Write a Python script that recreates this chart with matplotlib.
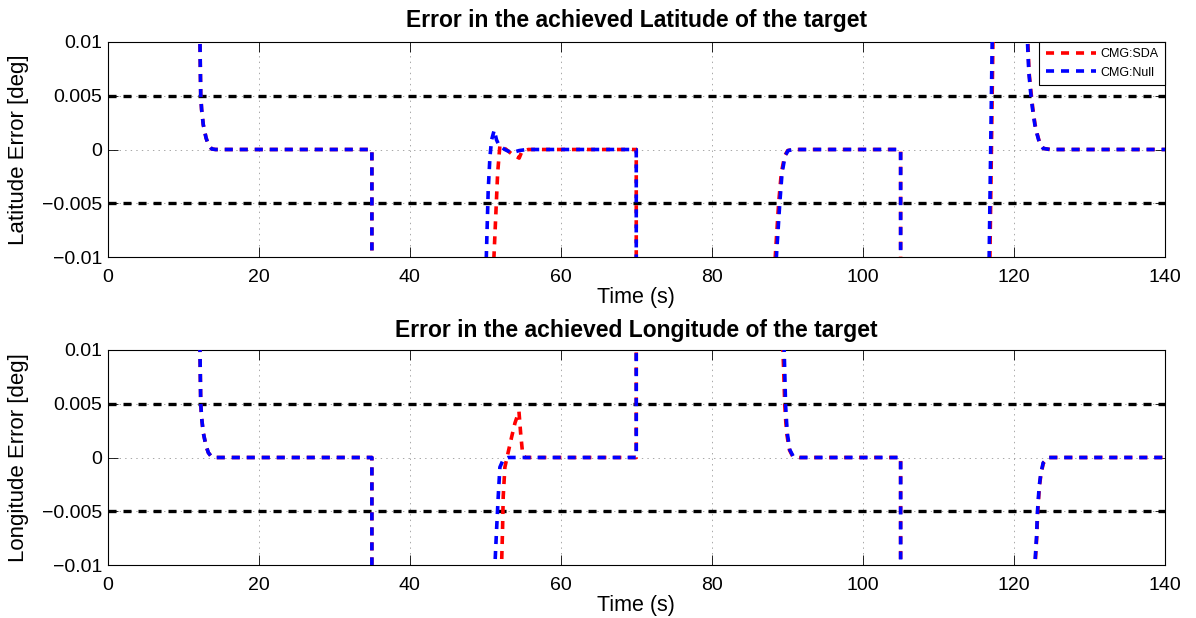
import matplotlib
matplotlib.use('Agg')
import matplotlib.pyplot as plt
import numpy as np

plt.rcParams['font.family'] = ['Liberation Sans', 'DejaVu Sans']
plt.rcParams['lines.scale_dashes'] = False

# (time [s], error [deg]) samples; +-0.05 stands for excursions far off scale
lat_sda = np.array([
    (12.0, 0.05), (12.24, 0.0101), (12.34, 0.0051), (12.46, 0.0037), (12.68, 0.0023),
    (13.04, 0.0011), (13.35, 0.00045), (13.79, 0.00005), (14.3, 0.0), (35.0, 0.0),
    (35.0, -0.05), (48.7, -0.05), (51.16, -0.01), (51.65, -0.0022), (51.95, 0.0004),
    (52.6, 0.0001), (53.5, -0.0004), (54.5, -0.0008), (54.85, -0.0002), (55.7, 0.0),
    (70.0, 0.0), (70.0, -0.05), (87.4, -0.05), (88.4, -0.01), (88.85, -0.005),
    (89.2, -0.0022), (89.65, -0.0006), (90.05, -0.0001), (90.8, 0.0), (105.0, 0.0),
    (105.0, -0.05), (115.95, -0.05), (116.82, -0.01), (117.22, 0.01), (118.0, 0.05),
    (121.3, 0.05), (121.85, 0.0099), (122.0, 0.0072), (122.25, 0.0054), (122.5, 0.0038),
    (122.8, 0.0023), (123.1, 0.0014), (123.45, 0.0005), (123.9, 0.0001), (124.8, 0.0),
    (140.0, 0.0),
])
lat_null = np.array([
    (12.0, 0.05), (12.24, 0.0101), (12.34, 0.0051), (12.46, 0.0037), (12.68, 0.0023),
    (13.04, 0.0011), (13.35, 0.00045), (13.79, 0.00005), (14.3, 0.0), (35.0, 0.0),
    (35.0, -0.05), (48.9, -0.05), (50.15, -0.01), (50.4, -0.0038), (50.63, -0.0007),
    (50.85, 0.0009), (51.2, 0.0018), (51.5, 0.0009), (51.82, 0.0004), (52.6, 0.0),
    (53.5, -0.0003), (54.5, -0.0001), (55.5, 0.0), (70.0, 0.0), (70.0, -0.05),
    (87.6, -0.05), (88.55, -0.01), (89.0, -0.005), (89.3, -0.0022), (89.7, -0.0006),
    (90.1, -0.0001), (90.8, 0.0), (105.0, 0.0), (105.0, -0.05), (115.85, -0.05),
    (116.72, -0.01), (117.12, 0.01), (117.9, 0.05), (121.3, 0.05), (121.8, 0.0099),
    (121.97, 0.0072), (122.2, 0.0054), (122.46, 0.0038), (122.77, 0.0023), (123.07, 0.0014),
    (123.43, 0.0005), (123.87, 0.0001), (124.75, 0.0), (140.0, 0.0),
])
lon_sda = np.array([
    (12.0, 0.05), (12.24, 0.0101), (12.34, 0.0051), (12.46, 0.0037), (12.68, 0.0023),
    (13.04, 0.0011), (13.35, 0.00045), (13.79, 0.00005), (14.3, 0.0), (35.0, 0.0),
    (35.0, -0.05), (50.6, -0.05), (52.17, -0.01), (52.3, -0.0067), (52.39, -0.0036),
    (52.61, -0.0009), (53.05, 0.0005), (53.5, 0.0019), (53.94, 0.0032), (54.47, 0.0043),
    (54.69, 0.0023), (54.95, 0.0004), (55.26, 0.0), (70.0, 0.0), (70.0, 0.05),
    (88.3, 0.05), (89.42, 0.01), (89.55, 0.0074), (89.66, 0.0049), (89.8, 0.0033),
    (89.95, 0.0021), (90.28, 0.0007), (90.72, 0.0001), (91.6, 0.0), (105.0, 0.0),
    (105.0, -0.05), (121.4, -0.05), (122.8, -0.01), (123.02, -0.0074), (123.15, -0.005),
    (123.37, -0.0027), (123.59, -0.0015), (123.9, -0.0005), (124.55, 0.0), (140.0, 0.0),
])
lon_null = np.array([
    (12.0, 0.05), (12.24, 0.0101), (12.34, 0.0051), (12.46, 0.0037), (12.68, 0.0023),
    (13.04, 0.0011), (13.35, 0.00045), (13.79, 0.00005), (14.3, 0.0), (35.0, 0.0),
    (35.0, -0.05), (49.8, -0.05), (51.29, -0.01), (51.51, -0.0067), (51.73, -0.0036),
    (51.95, -0.0009), (52.39, -0.0002), (53.05, 0.0), (70.0, 0.0), (70.0, 0.05),
    (88.5, 0.05), (89.58, 0.01), (89.68, 0.0074), (89.77, 0.0049), (89.9, 0.0033),
    (90.03, 0.0021), (90.34, 0.0007), (90.78, 0.0001), (91.7, 0.0), (105.0, 0.0),
    (105.0, -0.05), (121.4, -0.05), (122.77, -0.01), (122.99, -0.0074), (123.12, -0.005),
    (123.34, -0.0027), (123.56, -0.0015), (123.87, -0.0005), (124.53, 0.0), (140.0, 0.0),
])

bound = 0.005
x_ticks = [0, 20, 40, 60, 80, 100, 120, 140]
y_ticks = [-0.01, -0.005, 0, 0.005, 0.01]
y_labels = ['\u22120.01', '\u22120.005', '0', '0.005', '0.01']

panels = [
    ('Error in the achieved Latitude of the target', 'Latitude Error [deg]', lat_sda, lat_null, True),
    ('Error in the achieved Longitude of the target', 'Longitude Error [deg]', lon_sda, lon_null, False),
]

W, H = 1196, 618
fig = plt.figure(figsize=(W / 100, H / 100), dpi=100)

dash = (0, (5.8, 5.0))
for i, (title, ylabel, sda, null, show_legend) in enumerate(panels):
    top_px = 42 if i == 0 else 350
    ax = fig.add_axes([107.5 / W, 1 - (top_px + 215) / H, (1165 - 107.5) / W, 215 / H])

    ax.axhline(bound, color='black', lw=2.4, linestyle=dash, dash_capstyle='butt', zorder=2)
    ax.axhline(-bound, color='black', lw=2.4, linestyle=dash, dash_capstyle='butt', zorder=2)
    ax.plot(sda[:, 0], sda[:, 1], color='#ff0000', lw=2.6, linestyle=dash,
            dash_capstyle='butt', label='CMG:SDA', zorder=3)
    ax.plot(null[:, 0], null[:, 1], color='#0000ff', lw=2.6, linestyle=dash,
            dash_capstyle='butt', label='CMG:Null', zorder=4)

    ax.set_xlim(0, 140)
    ax.set_ylim(-0.01, 0.01)
    ax.set_xticks(x_ticks)
    ax.set_xticklabels([str(v) for v in x_ticks])
    ax.set_yticks(y_ticks)
    ax.set_yticklabels(y_labels)
    ax.tick_params(direction='in', length=7, width=0.6, labelsize=14,
                   top=True, right=True)
    ax.tick_params(axis='x', pad=9)
    ax.tick_params(axis='y', pad=4)
    ax.grid(True, color='#999999', linestyle=(0, (1, 3)), linewidth=0.6)
    for s in ax.spines.values():
        s.set_linewidth(0.8)

    ax.set_title(title, fontsize=16.5, fontweight='bold', pad=11 if i == 0 else 9)
    ax.set_xlabel('Time (s)', fontsize=15.5, labelpad=0)
    ax.set_ylabel(ylabel, fontsize=16, labelpad=9)

    if show_legend:
        leg = ax.legend(loc='upper right', fontsize=9, handlelength=4.0, frameon=True,
                        fancybox=False, borderaxespad=0, borderpad=0.5, labelspacing=0.5,
                        handletextpad=0.4)
        leg.get_frame().set_edgecolor('black')
        leg.get_frame().set_linewidth(0.8)
        leg.get_frame().set_alpha(1)

fig.savefig('out.png', dpi=100)
plt.close(fig)
